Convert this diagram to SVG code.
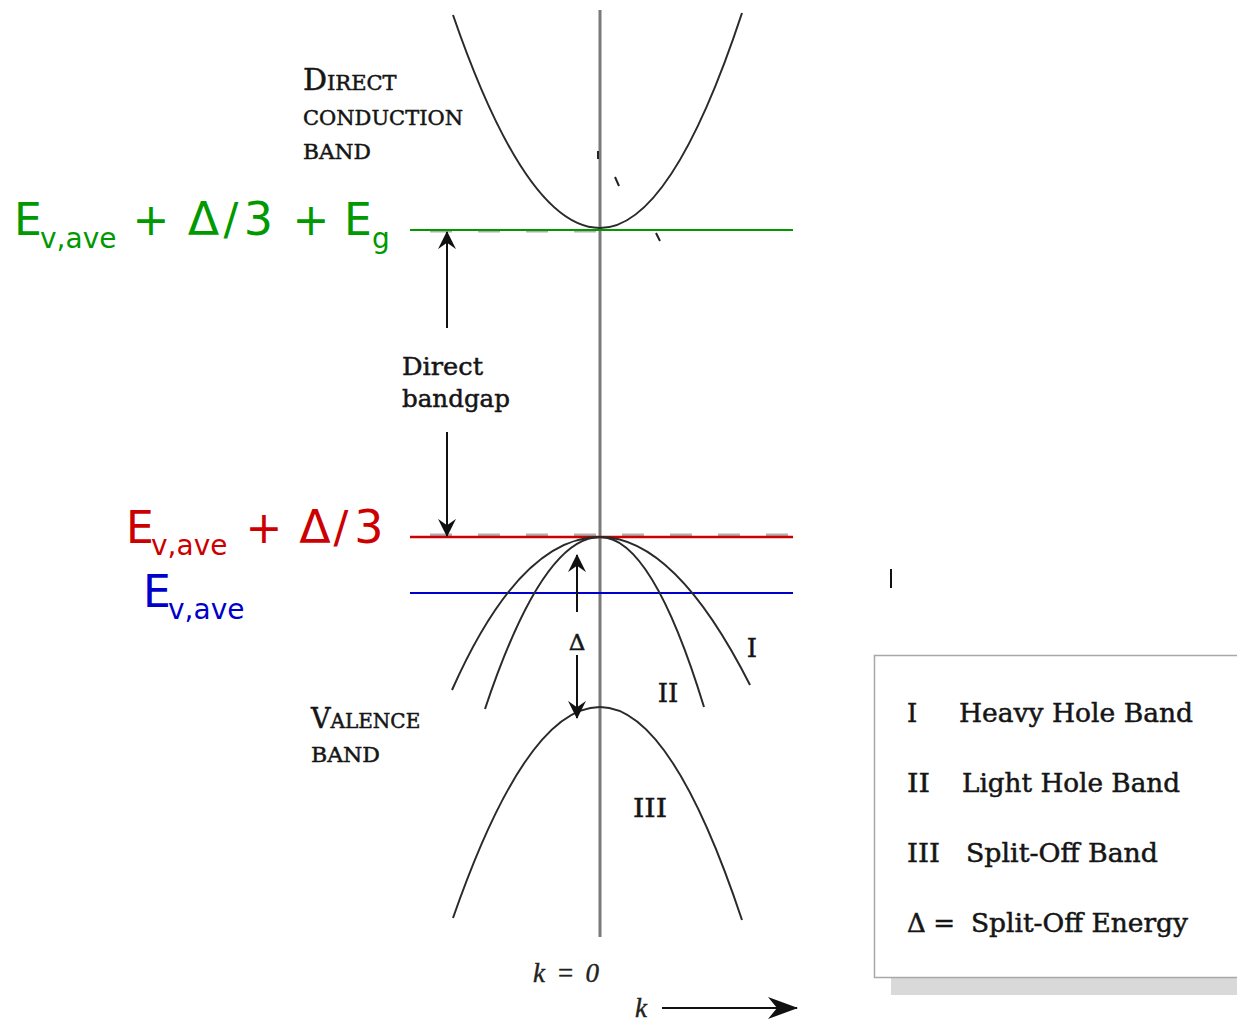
<svg xmlns="http://www.w3.org/2000/svg" width="1237" height="1022" viewBox="0 0 1237 1022">
<style>
.band{fill:none;stroke:#2a2a2a;stroke-width:2}
.arr{fill:none;stroke:#111;stroke-width:2}
.serif{font-family:"DejaVu Serif","Liberation Serif",serif;fill:#151515;stroke:#151515;stroke-width:0.5}
.sans{font-family:"DejaVu Sans","Liberation Sans",sans-serif}
.ital{font-family:"Liberation Serif",serif;font-style:italic;fill:#222;stroke:#222;stroke-width:0.4}
.green{fill:#009900}
.red{fill:#cc0000}
.blue{fill:#0000cc}
.dash{fill:none;stroke:#b0b0b0;stroke-width:3;stroke-dasharray:22 26}
</style>
<defs>
<marker id="ah" markerUnits="userSpaceOnUse" viewBox="0 0 20 20" markerWidth="18" markerHeight="18" refX="19" refY="10" orient="auto">
<path d="M0,0 L20,10 L0,20 L7,10 Z" fill="#111"/>
</marker>
<marker id="ahk" markerUnits="userSpaceOnUse" viewBox="0 0 30 22" markerWidth="32" markerHeight="22" refX="29" refY="11" orient="auto">
<path d="M0,0 L30,11 L0,22 L9,11 Z" fill="#111"/>
</marker>
</defs>
<rect width="1237" height="1022" fill="#ffffff"/>

<g id="axis">
<line x1="600" y1="10" x2="600" y2="937" stroke="#7a7a7a" stroke-width="3"/>
</g>

<g id="levels">
<line class="dash" x1="430" y1="231" x2="600" y2="231"/>
<line x1="410" y1="230" x2="793" y2="230" stroke="#009900" stroke-width="2.2"/>
<line class="dash" x1="430" y1="535" x2="793" y2="535"/>
<line x1="410" y1="537" x2="793" y2="537" stroke="#cc0000" stroke-width="2.5"/>
<line x1="410" y1="593" x2="793" y2="593" stroke="#0000cc" stroke-width="2.2"/>
</g>

<g id="conduction-band">
<path class="band" d="M453,15 Q526.5,228 600,228 Q671,228 742,13"/>
<path d="M598,151 L598,159 M615,177 L619,186 M656,233 L660,241" stroke="#222" stroke-width="2" fill="none"/>
</g>
<g id="heavy-hole-band">
<path class="band" d="M452,690 Q520,537 600,537 Q675,537 750,685"/>
</g>
<g id="light-hole-band">
<path class="band" d="M485,709 Q542.5,537 600,537 Q652,537 704,707"/>
</g>
<g id="split-off-band">
<path class="band" d="M453,918 Q526.5,707 600,707 Q671,707 742,920"/>
</g>

<g id="connectors">
<line class="arr" x1="447" y1="328" x2="447" y2="232" marker-end="url(#ah)"/>
<line class="arr" x1="447" y1="432" x2="447" y2="536" marker-end="url(#ah)"/>
<line class="arr" x1="577" y1="612" x2="577" y2="555" marker-end="url(#ah)"/>
<line class="arr" x1="577" y1="655" x2="577" y2="718" marker-end="url(#ah)"/>
<line class="arr" x1="662" y1="1008" x2="797" y2="1008" marker-end="url(#ahk)"/>
</g>

<g id="label-conduction">
<text class="serif" x="303" y="90" font-size="21"><tspan font-size="30">D</tspan>IRECT</text>
<text class="serif" x="303" y="125" font-size="21" textLength="160" lengthAdjust="spacingAndGlyphs">CONDUCTION</text>
<text class="serif" x="303" y="159" font-size="21" textLength="68" lengthAdjust="spacingAndGlyphs">BAND</text>
</g>
<g id="label-valence">
<text class="serif" x="311" y="728" font-size="20"><tspan font-size="27">V</tspan>ALENCE</text>
<text class="serif" x="311" y="762" font-size="21" textLength="69" lengthAdjust="spacingAndGlyphs">BAND</text>
</g>
<g id="label-bandgap">
<text class="serif" x="402" y="375" font-size="25" textLength="81" lengthAdjust="spacingAndGlyphs">Direct</text>
<text class="serif" x="402" y="407" font-size="25" textLength="108" lengthAdjust="spacingAndGlyphs">bandgap</text>
</g>
<g id="label-delta">
<text class="serif" x="577" y="650" font-size="23" text-anchor="middle">Δ</text>
</g>
<g id="band-numerals">
<text class="serif" x="752" y="657" font-size="26" text-anchor="middle">I</text>
<text class="serif" x="668" y="702" font-size="26" text-anchor="middle">II</text>
<text class="serif" x="650" y="817" font-size="26" text-anchor="middle" textLength="34" lengthAdjust="spacingAndGlyphs">III</text>
</g>
<g id="label-k">
<text class="ital" x="533" y="982" font-size="27" textLength="66" lengthAdjust="spacing">k = 0</text>
<text class="ital" x="635" y="1017" font-size="27">k</text>
</g>

<g id="label-green" class="sans green">
<text x="14" y="235" font-size="44">E</text>
<text x="40" y="248" font-size="28">v,ave</text>
<text x="151" y="235" font-size="44" text-anchor="middle">+</text>
<text x="203.5" y="235" font-size="46" text-anchor="middle">Δ</text>
<text x="231" y="235" font-size="44" text-anchor="middle">/</text>
<text x="258.5" y="235" font-size="46" text-anchor="middle">3</text>
<text x="311" y="235" font-size="44" text-anchor="middle">+</text>
<text x="344" y="235" font-size="44">E</text>
<text x="372" y="248" font-size="28">g</text>
</g>
<g id="label-red" class="sans red">
<text x="126" y="543" font-size="44">E</text>
<text x="151" y="555" font-size="28">v,ave</text>
<text x="264" y="543" font-size="44" text-anchor="middle">+</text>
<text x="315" y="543" font-size="46" text-anchor="middle">Δ</text>
<text x="341" y="543" font-size="44" text-anchor="middle">/</text>
<text x="369" y="543" font-size="46" text-anchor="middle">3</text>
</g>
<g id="label-blue" class="sans blue">
<text x="143" y="607" font-size="44">E</text>
<text x="168" y="619" font-size="28">v,ave</text>
</g>

<g id="mark">
<line x1="891" y1="569" x2="891" y2="588" stroke="#111" stroke-width="2"/>
</g>

<g id="legend">
<rect x="891" y="978" width="360" height="17" fill="#d9d9d9"/>
<rect x="874.5" y="655.5" width="380" height="322" fill="#ffffff" stroke="#a8a8a8" stroke-width="1.5"/>
<text class="serif" x="907" y="722" font-size="26">I</text>
<text class="serif" x="959" y="722" font-size="26" textLength="234" lengthAdjust="spacingAndGlyphs">Heavy Hole Band</text>
<text class="serif" x="907" y="792" font-size="26" textLength="23" lengthAdjust="spacingAndGlyphs">II</text>
<text class="serif" x="962" y="792" font-size="26" textLength="218" lengthAdjust="spacingAndGlyphs">Light Hole Band</text>
<text class="serif" x="907" y="862" font-size="26" textLength="33" lengthAdjust="spacingAndGlyphs">III</text>
<text class="serif" x="966" y="862" font-size="26" textLength="192" lengthAdjust="spacingAndGlyphs">Split-Off Band</text>
<text class="serif" x="907" y="932" font-size="26" textLength="48" lengthAdjust="spacing">Δ =</text>
<text class="serif" x="971" y="932" font-size="26" textLength="217" lengthAdjust="spacingAndGlyphs">Split-Off Energy</text>
</g>
</svg>
